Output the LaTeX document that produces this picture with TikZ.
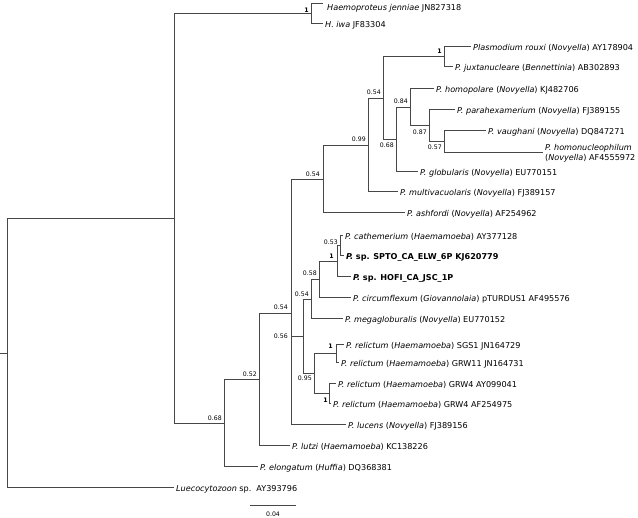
\documentclass[tikz,border=0pt]{standalone}
\usepackage{fontspec}
\setmainfont{DejaVu Sans}
\begin{document}
\begin{tikzpicture}[x=1pt,y=-1pt,
  br/.style={draw=black!72, line width=1pt},
  leaf/.style={anchor=west, inner sep=0pt, font=\fontsize{8.1}{10.5}\selectfont, text height=1.5ex, text depth=0.25ex},
  sup/.style={anchor=east, inner sep=0pt, font=\fontsize{6.2}{7}\selectfont},
]
\useasboundingbox (0,0) rectangle (638,518);

% internal nodes
\coordinate (rootstub) at (0,353.3);
\coordinate (R) at (7,353.3);
\coordinate (H) at (174,218.6);
\coordinate (HP) at (311,13.75);
\coordinate (I) at (224,423.4);
\coordinate (A52) at (259,379.8);
\coordinate (B54) at (291,313.6);
\coordinate (T54) at (323,179.1);
\coordinate (N99) at (368,145.2);
\coordinate (N54b) at (383,98.4);
\coordinate (N1r) at (444,57);
\coordinate (N68) at (396,139.75);
\coordinate (N84) at (410,107.5);
\coordinate (N87) at (429,126);
\coordinate (N57) at (444,142);
\coordinate (C56) at (303,336.7);
\coordinate (N54i) at (311,299.4);
\coordinate (N58) at (319,279.75);
\coordinate (N1h) at (337,261.5);
\coordinate (N53) at (340,246);
\coordinate (N95) at (314,374);
\coordinate (N1s) at (336,354);
\coordinate (N1g) at (329,394);

% leaves
\coordinate (jenE) at (323,3.5);
\node[leaf] (jen) at (327,7) {\textit{Haemoproteus jenniae} JN827318};
\node[leaf] (iwa) at (325,24) {\textit{H. iwa} JF83304};
\node[leaf] (rouxi) at (473,47) {\textit{Plasmodium rouxi} (\textit{Novyella}) AY178904};
\node[leaf] (juxta) at (455,67) {\textit{P. juxtanucleare} (\textit{Bennettinia}) AB302893};
\node[leaf] (homop) at (436,89) {\textit{P. homopolare} (\textit{Novyella}) KJ482706};
\node[leaf] (parahex) at (457,110) {\textit{P. parahexamerium} (\textit{Novyella}) FJ389155};
\node[leaf] (vaug) at (488,131) {\textit{P. vaughani} (\textit{Novyella}) DQ847271};
\coordinate (homonucE) at (543,153);
\node[leaf, align=left, text height=, text depth=] (homonuc) at (545,153.5) {\textit{P. homonucleophilum}\\(\textit{Novyella}) AF4555972};
\node[leaf] (glob) at (420,172) {\textit{P. globularis} (\textit{Novyella}) EU770151};
\node[leaf] (multi) at (400,192) {\textit{P. multivacuolaris} (\textit{Novyella}) FJ389157};
\node[leaf] (ashf) at (407,213) {\textit{P. ashfordi} (\textit{Novyella}) AF254962};
\node[leaf] (cath) at (345,236) {\textit{P. cathemerium} (\textit{Haemamoeba}) AY377128};
\node[leaf] (spto) at (346,256) {\textbf{\textit{P.} sp. SPTO\_CA\_ELW\_6P KJ620779}};
\node[leaf] (hofi) at (353,277) {\textbf{\textit{P.} sp. HOFI\_CA\_JSC\_1P}};
\node[leaf] (circ) at (353,298) {\textit{P. circumflexum} (\textit{Giovannolaia}) pTURDUS1 AF495576};
\node[leaf] (megag) at (345,319) {\textit{P. megagloburalis} (\textit{Novyella}) EU770152};
\node[leaf] (sgs1) at (346,345) {\textit{P. relictum} (\textit{Haemamoeba}) SGS1 JN164729};
\node[leaf] (grw11) at (341,363) {\textit{P. relictum} (\textit{Haemamoeba}) GRW11 JN164731};
\node[leaf] (grw4a) at (338,384) {\textit{P. relictum} (\textit{Haemamoeba}) GRW4 AY099041};
\node[leaf] (grw4b) at (333,404) {\textit{P. relictum} (\textit{Haemamoeba}) GRW4 AF254975};
\node[leaf] (lucens) at (348,425) {\textit{P. lucens} (\textit{Novyella}) FJ389156};
\node[leaf] (lutzi) at (292,446) {\textit{P. lutzi} (\textit{Haemamoeba}) KC138226};
\node[leaf] (elong) at (260,467) {\textit{P. elongatum} (\textit{Huffia}) DQ368381};
\node[leaf] (luec) at (176,488) {\textit{Luecocytozoon} sp.\hspace{5pt}AY393796};

% branches
\draw[br] (rootstub) -- (R);
\draw[br] (R) |- (H);
\draw[br] (R) |- ([xshift=-2pt]luec.west);
\draw[br] (H) |- (HP);
\draw[br] (H) |- (I);
\draw[br] (HP) |- (jenE);
\draw[br] (HP) |- ([xshift=-2pt]iwa.west);
\draw[br] (I) |- (A52);
\draw[br] (I) |- ([xshift=-2pt]elong.west);
\draw[br] (A52) |- (B54);
\draw[br] (A52) |- ([xshift=-2pt]lutzi.west);
\draw[br] (B54) |- (T54);
\draw[br] (B54) |- (C56);
\draw[br] (B54) |- ([xshift=-2pt]lucens.west);
\draw[br] (T54) |- (N99);
\draw[br] (T54) |- ([xshift=-2pt]ashf.west);
\draw[br] (N99) |- (N54b);
\draw[br] (N99) |- ([xshift=-2pt]multi.west);
\draw[br] (N54b) |- (N1r);
\draw[br] (N54b) |- (N68);
\draw[br] (N1r) |- ([xshift=-2pt]rouxi.west);
\draw[br] (N1r) |- ([xshift=-2pt]juxta.west);
\draw[br] (N68) |- (N84);
\draw[br] (N68) |- ([xshift=-2pt]glob.west);
\draw[br] (N84) |- ([xshift=-2pt]homop.west);
\draw[br] (N84) |- (N87);
\draw[br] (N87) |- ([xshift=-2pt]parahex.west);
\draw[br] (N87) |- (N57);
\draw[br] (N57) |- ([xshift=-2pt]vaug.west);
\draw[br] (N57) |- (homonucE);
\draw[br] (C56) |- (N54i);
\draw[br] (C56) |- (N95);
\draw[br] (N54i) |- (N58);
\draw[br] (N54i) |- ([xshift=-2pt]megag.west);
\draw[br] (N58) |- (N1h);
\draw[br] (N58) |- ([xshift=-2pt]circ.west);
\draw[br] (N1h) |- (N53);
\draw[br] (N1h) |- ([xshift=-2pt]hofi.west);
\draw[br] (N53) |- ([xshift=-2pt]cath.west);
\draw[br] (N53) |- ([xshift=-2pt]spto.west);
\draw[br] (N95) |- (N1s);
\draw[br] (N95) |- (N1g);
\draw[br] (N1s) |- ([xshift=-2pt]sgs1.west);
\draw[br] (N1s) |- ([xshift=-2pt]grw11.west);
\draw[br] (N1g) |- ([xshift=-2pt]grw4a.west);
\draw[br] (N1g) |- ([xshift=-2pt]grw4b.west);

% support values
\node[sup] (sHP) at (309,10) {\textbf{1}};
\node[sup] (sI) at (222,418) {0.68};
\node[sup] (sA52) at (257,374) {0.52};
\node[sup] (sB54) at (288,307) {0.54};
\node[sup] (sC56) at (288,336.7) {0.56};
\node[sup] (sN54i) at (309,294) {0.54};
\node[sup] (sN58) at (317,273) {0.58};
\node[sup] (sN1h) at (334,256) {\textbf{1}};
\node[sup] (sN53) at (338,242) {0.53};
\node[sup] (sN95) at (312,378.5) {0.95};
\node[sup] (sN1s) at (333,346) {\textbf{1}};
\node[sup] (sN1g) at (328,400) {\textbf{1}};
\node[sup] (sT54) at (320,174) {0.54};
\node[sup] (sN99) at (366,139) {0.99};
\node[sup] (sN54b) at (381,92) {0.54};
\node[sup] (sN68) at (394,145) {0.68};
\node[sup] (sN84) at (408,101.5) {0.84};
\node[sup] (sN87) at (427,132) {0.87};
\node[sup] (sN57) at (442,147) {0.57};
\node[sup] (sN1r) at (442,51) {\textbf{1}};

% scale bar
\coordinate (sb1) at (250,506);
\coordinate (sb2) at (296,506);
\draw[br] (sb1) -- (sb2);
\node[sup, anchor=center] (sbl) at (273,514) {0.04};
\end{tikzpicture}
\end{document}
